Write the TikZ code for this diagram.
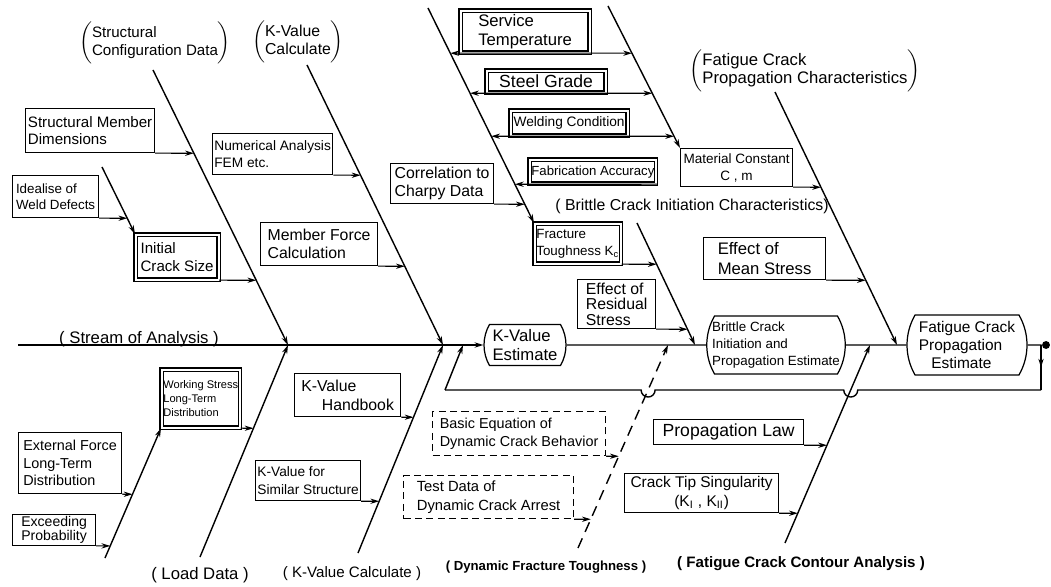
\documentclass[tikz,border=0pt]{standalone}
\usepackage{fontspec}
\setmainfont{Liberation Sans}
\usetikzlibrary{arrows.meta,shapes.misc,calc,decorations.markings}

\newcommand\grouptext[1]{$\left(\begin{tabular}{@{}l@{}}#1\end{tabular}\right)$}

\tikzset{
  box/.style     = {draw, line width=0.7pt, inner sep=1pt, align=left,
                    anchor=north west, font=\fontsize{8.6}{9.8}\selectfont},
  dbox/.style    = {box, double, double distance=1.2pt, line width=0.7pt},
  dashbox/.style = {box, dash pattern=on 4pt off 2.5pt},
  est/.style     = {draw, rounded rectangle, rounded rectangle arc length=60,
                    line width=0.7pt, inner sep=1pt, align=left},
  grp/.style     = {inner sep=0pt, font=\fontsize{9}{10.5}\selectfont},
  spine/.style   = {line width=0.8pt},
  bone/.style    = {->, line width=0.8pt},
  twig/.style    = {->, line width=0.6pt},
}

\begin{document}
\begin{tikzpicture}[
    x = 0.02cm, y = -0.02cm,
    >={Stealth[length=5pt,width=3pt]}
  ]
\useasboundingbox (0,0) rectangle (1051,587);

% spine points
\coordinate (s0) at (18,345);
\coordinate (J1) at (288,345);
\coordinate (J2) at (443,345);
\coordinate (J3) at (463,345);
\coordinate (JD) at (668,345);
\coordinate (JB) at (695,345);
\coordinate (JC) at (870,345);
\coordinate (JF) at (897,345);
\coordinate (tap) at (1041,345);
% free ends of the bones
\coordinate (t1) at (153,70);
\coordinate (t2) at (307,65);
\coordinate (t3) at (428,8);
\coordinate (t4) at (608,6);
\coordinate (t5) at (637,223);
\coordinate (t6) at (775,92);
\coordinate (u1) at (102,167);
\coordinate (b1) at (200,557);
\coordinate (b1s) at (105,558);
\coordinate (b2) at (358,553);
\coordinate (b3) at (578,548);
\coordinate (b4) at (785,543);
\coordinate (fbr) at (1041,390);
\coordinate (fbl) at (445,390);

% group labels
\node[grp, font=\fontsize{8.6}{10}\selectfont] (lsc) at (155,43) {\grouptext{Structural\\Configuration Data}};
\node[grp] (lkc) at (298,42) {\grouptext{K-Value\\Calculate}};
\node[grp, font=\fontsize{9.5}{10.5}\selectfont] (lfp) at (805,71) {\grouptext{Fatigue Crack\\Propagation Characteristics}};
\node[grp] (lbc) at (692,206) {( Brittle Crack Initiation Characteristics)};
\node[grp, font=\fontsize{9.5}{10.5}\selectfont] (lsa) at (139,339) {( Stream of Analysis )};
\node[grp, font=\fontsize{9.5}{10.5}\selectfont] (lld) at (200,575) {( Load Data )};
\node[grp, font=\fontsize{8.6}{10}\selectfont] (lkb) at (352,574) {( K-Value Calculate )};
\node[grp, font=\fontsize{7.5}{9}\selectfont\bfseries] (ldf) at (546,567) {( Dynamic Fracture Toughness )};
\node[grp, font=\fontsize{8.6}{10}\selectfont\bfseries] (lfc) at (801,564) {( Fatigue Crack Contour Analysis )};

% boxes, upper left
\node[box, minimum width=2.58cm, minimum height=0.88cm] (sm) at (25,108) {Structural Member\\Dimensions};
\node[box, minimum width=1.72cm, minimum height=0.84cm, font=\fontsize{7.6}{9.4}\selectfont] (iw) at (12,175) {Idealise of\\Weld Defects};
\node[dbox, minimum width=1.66cm, minimum height=0.90cm] (ic) at (135,234) {Initial\\Crack Size};
\node[box, minimum width=2.40cm, minimum height=0.82cm, font=\fontsize{7.8}{10}\selectfont] (na) at (212,133) {Numerical Analysis\\FEM etc.};
\node[box, minimum width=2.34cm, minimum height=0.86cm, font=\fontsize{9}{10.5}\selectfont] (mf) at (260,222) {Member Force\\Calculation};
% boxes, lower left
\node[dbox, minimum width=1.52cm, minimum height=1.16cm, font=\fontsize{6.3}{7.8}\selectfont] (ws) at (161,369) {Working Stress\\Long-Term\\Distribution};
\node[box, minimum width=2.06cm, minimum height=1.22cm, font=\fontsize{8.2}{10}\selectfont] (ef) at (18,432) {External Force\\Long-Term\\Distribution};
\node[box, minimum width=1.66cm, minimum height=0.58cm, font=\fontsize{8}{8}\selectfont] (ep) at (12,514) {Exceeding\\Probability};
\node[box, minimum width=2.12cm, minimum height=0.86cm, font=\fontsize{9}{11}\selectfont] (kh) at (294,373) {K-Value\\\hspace{1.3em}Handbook};
\node[box, minimum width=2.10cm, minimum height=0.80cm, font=\fontsize{7.8}{10}\selectfont] (ks) at (255,460) {K-Value for\\Similar Structure};
% boxes, material
\node[dbox, minimum width=2.58cm, minimum height=0.84cm, font=\fontsize{9.5}{10.5}\selectfont] (st) at (460,10) {Service\\Temperature};
\node[dbox, minimum width=2.38cm, minimum height=0.44cm, font=\fontsize{10}{11}\selectfont, align=center] (sg) at (486,70) {Steel Grade};
\node[dbox, minimum width=2.34cm, minimum height=0.50cm, font=\fontsize{7.8}{9}\selectfont, align=center] (wc) at (510,110) {Welding Condition};
\node[dbox, minimum width=2.52cm, minimum height=0.48cm, font=\fontsize{7.5}{9}\selectfont, align=center] (fa) at (529,159) {Fabrication Accuracy};
\node[box, minimum width=2.06cm, minimum height=0.80cm, font=\fontsize{9}{10.5}\selectfont] (cc) at (390,163) {Correlation to\\Charpy Data};
\node[dbox, minimum width=1.72cm, minimum height=0.80cm, font=\fontsize{7.6}{9.6}\selectfont] (ft) at (534,223) {Fracture\\Toughness K\textsubscript{c}};
\node[box, minimum width=1.56cm, minimum height=0.98cm, font=\fontsize{9}{8.8}\selectfont] (rs) at (577,279) {Effect of\\Residual\\Stress};
\node[box, minimum width=2.24cm, minimum height=0.76cm, font=\fontsize{7.7}{9.6}\selectfont, align=center] (mc) at (680,148) {Material Constant\\C , m};
\node[box, minimum width=2.44cm, minimum height=0.84cm, font=\fontsize{9.5}{11}\selectfont] (ms) at (703,237) {Effect of\\Mean Stress};
% boxes, lower right
\node[dashbox, minimum width=3.46cm, minimum height=0.88cm, font=\fontsize{8.2}{10.5}\selectfont] (be) at (432,411) {Basic Equation of\\Dynamic Crack Behavior};
\node[dashbox, minimum width=3.40cm, minimum height=0.86cm, font=\fontsize{8.4}{10.5}\selectfont] (td) at (403,475) {Test Data of\\Dynamic Crack Arrest};
\node[box, minimum width=3.00cm, minimum height=0.50cm, font=\fontsize{10}{11}\selectfont] (pl) at (653,419) {Propagation Law};
\node[box, minimum width=3.08cm, minimum height=0.78cm, font=\fontsize{8.8}{10.5}\selectfont, align=center] (ct) at (624,473) {Crack Tip Singularity\\(K\textsubscript{I} , K\textsubscript{II})};

% estimates on the spine
\node[est, minimum width=1.68cm, minimum height=0.82cm, font=\fontsize{9.5}{10.5}\selectfont] (ke) at (525,345) {K-Value\\Estimate};
\node[est, minimum width=2.84cm, minimum height=1.16cm, font=\fontsize{7.6}{9.6}\selectfont] (bc) at (776,345) {Brittle Crack\\Initiation and\\Propagation Estimate};
\node[est, minimum width=2.38cm, minimum height=1.2cm, font=\fontsize{8.8}{10}\selectfont] (fc) at (967,345) {Fatigue Crack\\Propagation\\\hspace{0.8em}Estimate};
\node[circle, fill, inner sep=0pt, minimum size=4.5pt] (out) at (1046,345) {};

% spine
\draw[bone] (s0) -- (ke);
\draw[spine] (ke) -- (bc);
\draw[spine] (bc) -- (fc);
\draw[spine] (fc) -- (out);

% main bones
\draw[bone] (t1) -- (J1);
\draw[bone] (b1) -- (J1);
\draw[bone] (t2) -- (J2);
\draw[bone] (b2) -- (J2);
\draw[bone] (t5) -- (JB);
\draw[bone] (t6) -- (JF);
\draw[bone] (b4) -- (JC);
\draw[bone, dash pattern=on 6pt off 4pt] (b3) -- (JD);
% side bones
\draw[bone] (u1) -- (ic.north west);
\draw[bone] (b1s) -- (ws.south west);
\draw[bone] (t3) -- (ft.north west);
\draw[bone] (t4) -- (mc.north west);

% feedback loop
\coordinate (x1) at (intersection of fbr--fbl and b4--JC);
\coordinate (x2) at (intersection of fbr--fbl and b3--JD);
\draw[spine, postaction={decorate},
  decoration={markings, mark=at position 0.5 with {\arrow{Stealth[length=5pt,width=3pt]}}}]
  (tap) -- (fbr);
\draw[spine] (fbr) -- ($(x1)+(7,0)$) arc[start angle=0, end angle=180, radius=7]
  -- ($(x2)+(7,0)$) arc[start angle=0, end angle=180, radius=7] -- (fbl);
\draw[bone] (fbl) -- (J3);

% twigs into the bones
\draw[twig] (sm.south east) -- (intersection of sm.south west--sm.south east and t1--J1);
\draw[twig] (ic.south east) -- (intersection of ic.south west--ic.south east and t1--J1);
\draw[twig] (iw.south east) -- (intersection of iw.south west--iw.south east and u1--ic.north west);
\draw[twig] (na.south east) -- (intersection of na.south west--na.south east and t2--J2);
\draw[twig] (mf.south east) -- (intersection of mf.south west--mf.south east and t2--J2);
\draw[twig] (ws.south east) -- (intersection of ws.south west--ws.south east and b1--J1);
\draw[twig] (ef.south east) -- (intersection of ef.south west--ef.south east and b1s--ws.south west);
\draw[twig] (ep.south east) -- (intersection of ep.south west--ep.south east and b1s--ws.south west);
\draw[twig] (kh.south east) -- (intersection of kh.south west--kh.south east and b2--J2);
\draw[twig] (ks.south east) -- (intersection of ks.south west--ks.south east and b2--J2);
\draw[twig, <->] (intersection of st.south west--st.south east and t3--ft.north west)
  -- (intersection of st.south west--st.south east and t4--mc.north west);
\draw[twig, <->] (intersection of sg.south west--sg.south east and t3--ft.north west)
  -- (intersection of sg.south west--sg.south east and t4--mc.north west);
\draw[twig, <->] (intersection of wc.south west--wc.south east and t3--ft.north west)
  -- (intersection of wc.south west--wc.south east and t4--mc.north west);
\draw[twig] (fa.south east) -- (intersection of fa.south west--fa.south east and t3--ft.north west);
\draw[twig] (cc.south east) -- (intersection of cc.south west--cc.south east and t3--ft.north west);
\draw[twig] (ft.south east) -- (intersection of ft.south west--ft.south east and t5--JB);
\draw[twig] (rs.south east) -- (intersection of rs.south west--rs.south east and t5--JB);
\draw[twig] (mc.south east) -- (intersection of mc.south west--mc.south east and t6--JF);
\draw[twig] (ms.south east) -- (intersection of ms.south west--ms.south east and t6--JF);
\draw[twig] (be.south east) -- (intersection of be.south west--be.south east and b3--JD);
\draw[twig] (td.south east) -- (intersection of td.south west--td.south east and b3--JD);
\draw[twig] (pl.south east) -- (intersection of pl.south west--pl.south east and b4--JC);
\draw[twig] (ct.south east) -- (intersection of ct.south west--ct.south east and b4--JC);
%
\end{tikzpicture}
\end{document}
